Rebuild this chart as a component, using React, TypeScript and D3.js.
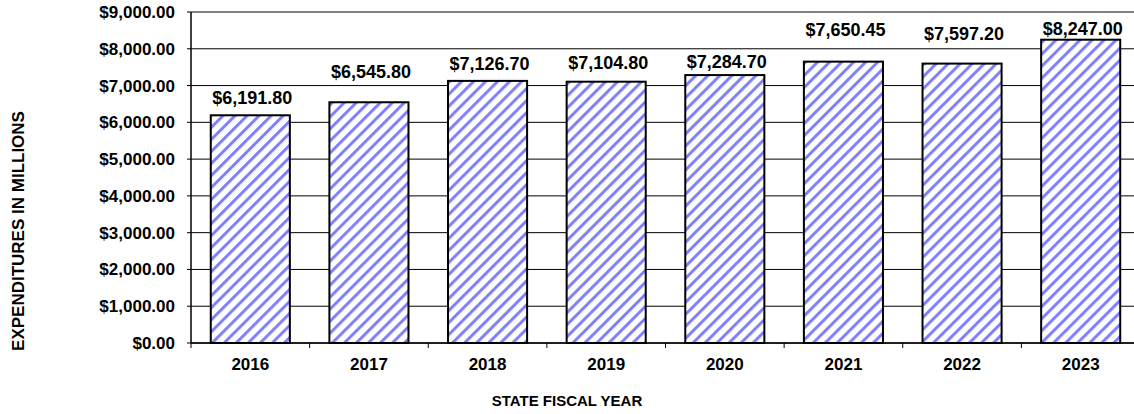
import React from "react";
import * as d3 from "d3";

const years = ["2016", "2017", "2018", "2019", "2020", "2021", "2022", "2023"];
const expenditures = [6191.8, 6545.8, 7126.7, 7104.8, 7284.7, 7650.45, 7597.2, 8247.0];
const yTicks = [0, 1000, 2000, 3000, 4000, 5000, 6000, 7000, 8000, 9000];
// gap (px) between bar top and its value label baseline, as placed in the original
const labelGap = [11.5, 24, 10.5, 13, 7, 26, 24, 5];

const W = 1134;
const H = 414;
const FONT = "'Liberation Sans', Arial, Helvetica, sans-serif";
const margin = { left: 191, top: 12, right: -6, bottom: 71 };

export default function App() {
  const x = d3
    .scaleBand<string>()
    .domain(years)
    .range([margin.left, W - margin.right])
    .paddingInner(1 / 3)
    .paddingOuter(1 / 6);
  const y = d3.scaleLinear().domain([0, 9000]).range([H - margin.bottom, margin.top]);
  const step = x.step();
  const fmt = (v: number) => "$" + d3.format(",.2f")(v);
  const x0 = margin.left;
  const x1 = W - margin.right;
  const y0 = y(0);

  return (
    <svg
      width={W}
      height={H}
      style={{ position: "absolute", left: 0, top: 0, background: "#fff" }}
      fontFamily={FONT}
    >
      <defs>
        <pattern
          id="hatch"
          patternUnits="userSpaceOnUse"
          width={8.5}
          height={8.5}
          patternTransform="rotate(45)"
        >
          <rect width={8.5} height={8.5} fill="#ffffff" />
          <rect width={3} height={8.5} fill="#8080ff" />
        </pattern>
      </defs>
      <rect width={W} height={H} fill="#fff" />
      {/* gridlines */}
      {yTicks.map((t) => (
        <line key={"g" + t} x1={x0 - 4} x2={x1} y1={y(t)} y2={y(t)} stroke="#000" strokeWidth={1} />
      ))}
      {/* y axis */}
      <line x1={x0} x2={x0} y1={y(9000)} y2={y0} stroke="#000" strokeWidth={1.5} />
      {/* x axis ticks */}
      {years.map((d, i) => (
        <line
          key={"xt" + d}
          x1={x0 + i * step}
          x2={x0 + i * step}
          y1={y0}
          y2={y0 + 5}
          stroke="#000"
          strokeWidth={1}
        />
      ))}
      {/* bars */}
      {years.map((d, i) => (
        <rect
          key={"b" + d}
          x={x(d)!}
          y={y(expenditures[i])}
          width={x.bandwidth()}
          height={y0 - y(expenditures[i])}
          fill="url(#hatch)"
          stroke="#000"
          strokeWidth={2}
        />
      ))}
      {/* x axis line */}
      <line x1={x0} x2={x1} y1={y0} y2={y0} stroke="#000" strokeWidth={1.5} />
      {/* value labels */}
      {years.map((d, i) => (
        <text
          key={"v" + d}
          x={x(d)! + x.bandwidth() / 2 + 2}
          y={y(expenditures[i]) - labelGap[i]}
          textAnchor="middle"
          fontSize={18}
          fontWeight="bold"
          fill="#000"
        >
          {fmt(expenditures[i])}
        </text>
      ))}
      {/* y tick labels */}
      {yTicks.map((t) => (
        <text
          key={"yl" + t}
          x={175}
          y={y(t)}
          dy="0.35em"
          textAnchor="end"
          fontSize={17}
          fontWeight="bold"
          fill="#000"
        >
          {fmt(t)}
        </text>
      ))}
      {/* x tick labels */}
      {years.map((d) => (
        <text
          key={"xl" + d}
          x={x(d)! + x.bandwidth() / 2}
          y={370}
          textAnchor="middle"
          fontSize={17}
          fontWeight="bold"
          fill="#000"
        >
          {d}
        </text>
      ))}
      {/* axis titles */}
      <text x={567} y={406} textAnchor="middle" fontSize={15} fontWeight="bold" fill="#000">
        STATE FISCAL YEAR
      </text>
      <text
        transform={`translate(18,231) rotate(-90)`}
        dy="0.35em"
        textAnchor="middle"
        fontSize={17}
        fontWeight="bold"
        fill="#000"
      >
        EXPENDITURES IN MILLIONS
      </text>
    </svg>
  );
}
